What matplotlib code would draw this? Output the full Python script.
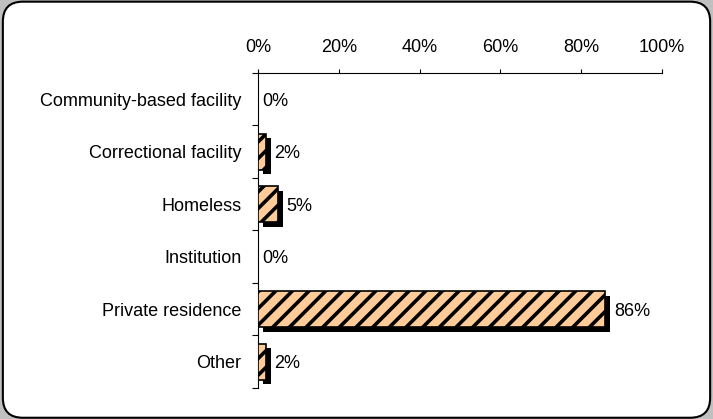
import matplotlib.pyplot as plt
import numpy as np
from matplotlib.patches import FancyBboxPatch
from matplotlib.transforms import ScaledTranslation
from matplotlib.ticker import FixedLocator, PercentFormatter

plt.rcParams['font.family'] = ['Liberation Sans', 'DejaVu Sans']
plt.rcParams['hatch.linewidth'] = 2.6
plt.rcParams['hatch.color'] = '#2b2b2b'

# DATA
categories = ['Community-based facility', 'Correctional facility', 'Homeless',
              'Institution', 'Private residence', 'Other']
values = [0, 2, 5, 0, 86, 2]
xticks = [0, 20, 40, 60, 80, 100]

fig = plt.figure(figsize=(7.13, 4.19), dpi=100)
fig.patch.set_facecolor('#c0c0c0')

# rounded frame around the whole chart
frame = FancyBboxPatch((0.004, 0.003), 0.992, 0.993,
                       boxstyle='round,pad=0,rounding_size=0.028',
                       transform=fig.transFigure, facecolor='white',
                       edgecolor='black', linewidth=1.5, zorder=-1,
                       mutation_aspect=713 / 419)
fig.patches.append(frame)

ax = fig.add_axes([0.3619, 0.074, 0.5666, 0.7518])
ax.set_facecolor('none')

y = np.arange(len(categories))
h = 0.68

# shadow bars shifted right/down
shadow = ax.transData + ScaledTranslation(0.045, -0.045, fig.dpi_scale_trans)
for yi, v in zip(y, values):
    if v > 0:
        ax.barh(yi, v, height=h, color='black', transform=shadow, zorder=2)

ax.barh(y, values, height=h, color='#ffcc99', edgecolor='black',
        linewidth=1.2, hatch='//', zorder=3)

for yi, v in zip(y, values):
    ax.annotate(f'{v}%', (v, yi), xytext=(6 if v > 0 else 3, -1.5),
                textcoords='offset points', va='center', ha='left',
                fontsize=13, zorder=4)

ax.set_xlim(0, 100)
ax.set_ylim(len(categories) - 0.5, -0.5)
ax.xaxis.tick_top()
ax.set_xticks(xticks)
ax.xaxis.set_major_formatter(PercentFormatter(decimals=0))
ax.tick_params(axis='x', direction='out', length=3, width=0.8, pad=9,
               labelsize=13)

ax.set_yticks(y)
ax.set_yticklabels(categories, va='center_baseline')
ax.yaxis.set_minor_locator(FixedLocator(np.arange(-0.5, len(categories), 1)))
ax.tick_params(axis='y', which='major', length=0, pad=12, labelsize=13)
ax.tick_params(axis='y', which='minor', length=4, width=0.8)

for s in ['right', 'bottom']:
    ax.spines[s].set_visible(False)
for s in ['left', 'top']:
    ax.spines[s].set_linewidth(0.8)

plt.savefig('out.png', dpi=100, facecolor=fig.get_facecolor())
